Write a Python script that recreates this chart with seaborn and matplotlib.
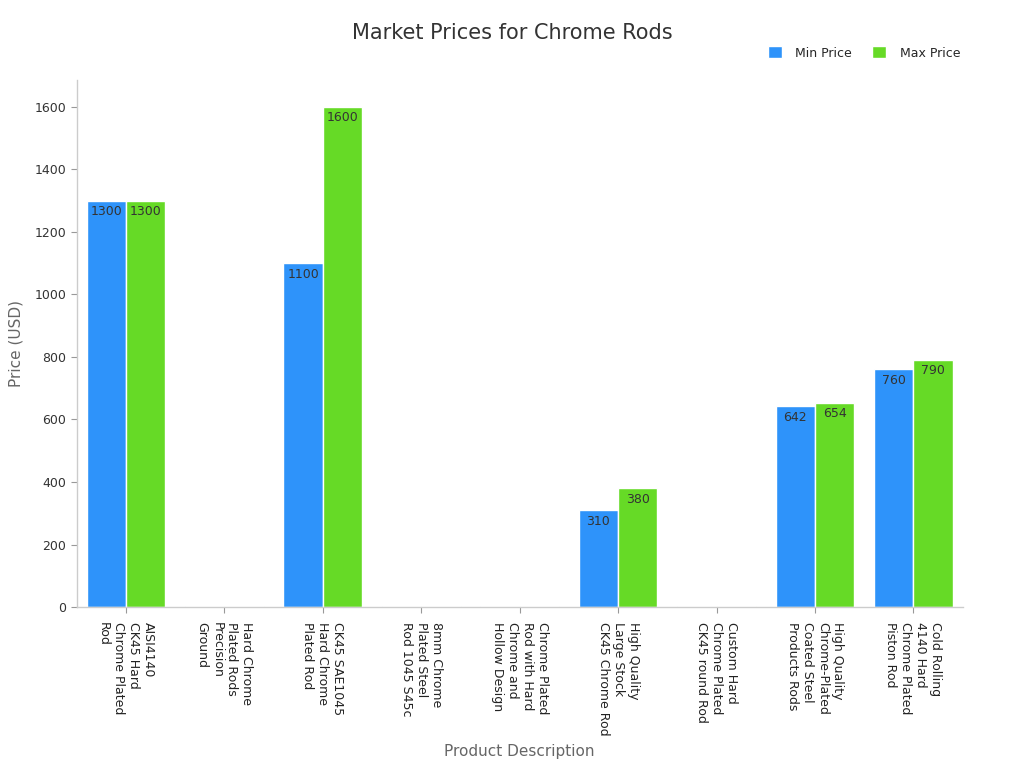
import matplotlib
matplotlib.use("Agg")
import matplotlib.pyplot as plt
import seaborn as sns
import pandas as pd

categories = [
    "AISI4140\nCK45 Hard\nChrome Plated\nRod",
    "Hard Chrome\nPlated Rods\nPrecision\nGround",
    "CK45 SAE1045\nHard Chrome\nPlated Rod",
    "8mm Chrome\nPlated Steel\nRod 1045 S45c",
    "Chrome Plated\nRod with Hard\nChrome and\nHollow Design",
    "High Quality\nLarge Stock\nCK45 Chrome Rod",
    "Custom Hard\nChrome Plated\nCK45 round Rod",
    "High Quality\nChrome-Plated\nCoated Steel\nProducts Rods",
    "Cold Rolling\n4140 Hard\nChrome Plated\nPiston Rod",
]
min_price = [1300, 3, 1100, 2, 3, 310, 2, 642, 760]
max_price = [1300, 3, 1600, 2, 3, 380, 2, 654, 790]
series = ["Min Price", "Max Price"]
colors = ["#2E93FA", "#66DA26"]

df = pd.DataFrame({
    "Product": categories * 2,
    "Price": min_price + max_price,
    "Series": [series[0]] * len(categories) + [series[1]] * len(categories),
})

sns.set_theme(style="white")
plt.rcParams["font.family"] = ["DejaVu Sans"]

fig = plt.figure(figsize=(10.24, 7.68), dpi=100)
ax = fig.add_axes([0.075, 0.2096, 0.865, 0.6862])

sns.barplot(data=df, x="Product", y="Price", hue="Series", palette=colors,
            order=categories, hue_order=series, width=0.8, ax=ax,
            edgecolor="white", linewidth=1, saturation=1, errorbar=None)

for cont in ax.containers:
    for bar in cont:
        h = bar.get_height()
        if h < 50:
            continue
        ax.text(bar.get_x() + bar.get_width() / 2, h - 14, f"{int(round(h))}",
                ha="center", va="top", fontsize=9, color="#333333")

ax.set_ylim(0, 1686)
ax.set_xlim(-0.5, len(categories) - 0.5)
ax.set_yticks([0, 200, 400, 600, 800, 1000, 1200, 1400, 1600])
ax.tick_params(axis="y", labelsize=9, colors="#333333", length=4, width=0.8, left=True)
ax.tick_params(axis="x", length=4, width=0.8, bottom=True, colors="#333333", pad=7)
ax.tick_params(axis="both", color="#999999")
ax.set_xticks(range(len(categories)))
ax.set_xticklabels(categories, rotation=-90, ha="center", va="top",
                   multialignment="left", fontsize=9, color="#222222")

for s in ["top", "right"]:
    ax.spines[s].set_visible(False)
for s in ["left", "bottom"]:
    ax.spines[s].set_color("#cccccc")
    ax.spines[s].set_linewidth(1)

ax.set_ylabel("Price (USD)", fontsize=11, color="#666666", labelpad=8)
ax.set_xlabel("Product Description", fontsize=11, color="#666666", labelpad=6)
fig.suptitle("Market Prices for Chrome Rods", fontsize=15, color="#333333", y=0.97)

ax.legend(loc="upper right", bbox_to_anchor=(1.01, 1.085), ncol=2, frameon=False,
          fontsize=9, handlelength=1.1, handleheight=1.1, handletextpad=1.1,
          columnspacing=1.6)

fig.savefig("out.png", dpi=100)
